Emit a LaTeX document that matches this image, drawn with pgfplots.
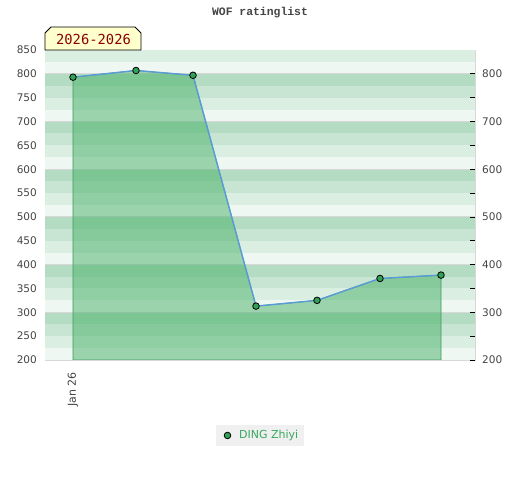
\documentclass[border=0pt]{standalone}
\usepackage{pgfplots}
\pgfplotsset{compat=1.18}
\usepackage{fontspec}
\setmainfont{DejaVu Sans}
\newfontfamily\titlefont{Liberation Mono}
\newfontfamily\boxfont{DejaVu Sans Mono}
\definecolor{bandA}{RGB}{239,247,242}
\definecolor{bandB}{RGB}{219,238,226}
\definecolor{bandC}{RGB}{199,229,210}
\definecolor{bandD}{RGB}{179,220,194}
\definecolor{fillgreen}{RGB}{70,177,103}
\definecolor{edgegreen}{RGB}{60,155,90}
\definecolor{linecol}{RGB}{90,155,215}
\definecolor{markcol}{RGB}{50,160,85}
\definecolor{legtext}{RGB}{58,168,98}
\definecolor{ticktext}{RGB}{68,68,68}
\definecolor{gridcol}{RGB}{216,216,216}
\definecolor{boxfill}{RGB}{255,255,204}
\definecolor{boxtext}{RGB}{140,0,0}
\newcommand\band[3]{\fill[#3] (axis cs:45,#1) rectangle (axis cs:475,#2);}
\newcommand\hgrid[1]{\draw[gridcol, line width=0.9bp] (axis cs:45,#1) -- (axis cs:475,#1);}
\begin{document}
\begin{tikzpicture}[x=1bp,y=1bp]
\path (0,0) rectangle (520,480);
\begin{axis}[
  at={(45bp,120bp)}, anchor=south west,
  width=430bp, height=310bp, scale only axis,
  xmin=45, xmax=475, ymin=200, ymax=850,
  axis line style={gridcol, line width=0.9bp},
  xtick={73}, xticklabels={Jan 26},
  ytick={200,250,...,850},
  major tick length=0pt,
  /pgf/number format/assume math mode=true,
  tick label style={font=\fontsize{10.5bp}{12bp}\selectfont, text=ticktext},
  yticklabel style={inner sep=0pt, anchor=east, xshift=-8bp},
  xticklabel style={font=\fontsize{11bp}{12bp}\selectfont, rotate=90, anchor=east, inner xsep=12bp, inner ysep=0pt},
  legend style={at={(0.5,-0.2435)}, anchor=center, fill=gray!12, draw=none,
    font=\fontsize{11bp}{13bp}\selectfont, text=legtext, inner xsep=4bp, inner ysep=4bp},
  legend image code/.code={\path[draw=none, fill=none] (-7.7bp,-1bp) rectangle (9.6bp,1bp);\draw[mark=*, mark size=3.3bp, mark options={fill=markcol, draw=black, line width=0.8bp}] plot coordinates {(0bp,0bp)};},
]
\band{200}{225}{bandA}\band{225}{250}{bandB}\band{250}{275}{bandC}\band{275}{300}{bandD}
\band{300}{325}{bandA}\band{325}{350}{bandB}\band{350}{375}{bandC}\band{375}{400}{bandD}
\band{400}{425}{bandA}\band{425}{450}{bandB}\band{450}{475}{bandC}\band{475}{500}{bandD}
\band{500}{525}{bandA}\band{525}{550}{bandB}\band{550}{575}{bandC}\band{575}{600}{bandD}
\band{600}{625}{bandA}\band{625}{650}{bandB}\band{650}{675}{bandC}\band{675}{700}{bandD}
\band{700}{725}{bandA}\band{725}{750}{bandB}\band{750}{775}{bandC}\band{775}{800}{bandD}
\band{800}{825}{bandA}\band{825}{850}{bandB}
\hgrid{300}\hgrid{400}\hgrid{500}\hgrid{600}\hgrid{700}\hgrid{800}
\addplot[draw=edgegreen, line width=0.8bp, fill=fillgreen, fill opacity=0.5, forget plot]
  coordinates {(73,793) (136,807) (193,797) (256,313) (317,325) (380,371) (441,378)} \closedcycle;
\addplot[linecol, line width=1.4bp, mark=*, mark size=3.3bp,
  mark options={fill=markcol, draw=black, line width=0.8bp}]
  coordinates {(73,793) (136,807) (193,797) (256,313) (317,325) (380,371) (441,378)};
\addlegendentry{DING Zhiyi}
\end{axis}
\begin{axis}[
  at={(45bp,120bp)}, anchor=south west,
  width=430bp, height=310bp, scale only axis,
  xmin=45, xmax=475, ymin=200, ymax=850,
  axis x line=none, axis y line*=right,
  axis line style={gridcol, line width=0.9bp},
  ytick={200,300,...,800},
  minor ytick={250,350,...,750},
  tick align=inside,
  major tick length=5bp, minor tick length=5bp,
  tick style={black, line width=0.8bp},
  /pgf/number format/assume math mode=true,
  tick label style={font=\fontsize{10.5bp}{12bp}\selectfont, text=ticktext},
  yticklabel style={inner sep=0pt, anchor=west, xshift=7bp},
]
\addplot[draw=none, forget plot] coordinates {(45,200)};
\end{axis}
\node[font=\titlefont\bfseries\fontsize{11.4bp}{13bp}\selectfont, text=ticktext] at (260,467) {WOF ratinglist};
\draw[fill=boxfill, line width=0.8bp] (45,430) -- (45,447) -- (51,453) -- (135,453) -- (141,447) -- (141,430) -- cycle;
\node[font=\boxfont\fontsize{13.8bp}{16bp}\selectfont, text=boxtext, anchor=base, inner sep=0pt] at (93.5,435) {2026-2026};
\end{tikzpicture}
\end{document}
